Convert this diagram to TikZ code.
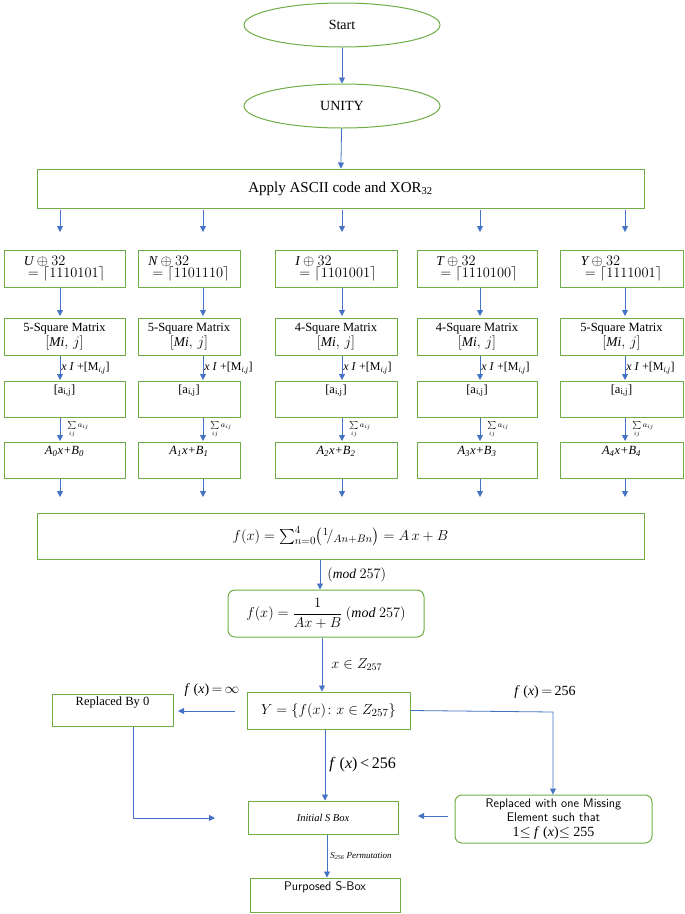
\documentclass[tikz,border=0pt]{standalone}
\usepackage{amsmath,amssymb}
\usepackage{fontspec}
\setmainfont{Liberation Serif}
\usetikzlibrary{shapes.geometric,arrows.meta}
\definecolor{gr}{RGB}{112,173,71}
\definecolor{bl}{RGB}{68,114,196}
\newcommand{\fsz}[1]{\fontsize{#1}{#1}\selectfont}
\begin{document}
\begin{tikzpicture}[x=1pt,y=-1pt,
  box/.style={draw=gr,line width=1pt,rectangle,inner sep=1pt,align=center,font=\fsz{12.5}},
  rbox/.style={box,rounded corners=7pt},
  ell/.style={draw=gr,line width=1pt,ellipse,minimum width=196pt,minimum height=44pt,font=\fsz{14}},
  arr/.style={draw=bl,line width=0.8pt,-{Triangle[length=6pt,width=6pt]}},
  lab/.style={font=\fsz{12},inner sep=1pt}]
\useasboundingbox (0,0) rectangle (685,914);
\node[ell] (start) at (342,25) {Start};
\node[ell] (unity) at (342,106) {UNITY};
\node[box,minimum width=607pt,minimum height=39pt,font=\fsz{15}] (apply) at (340.5,188.5) {Apply ASCII code and XOR\textsubscript{32}};
\draw[arr] (start) -- (unity);
\draw[arr] (unity) -- (apply);
\foreach \i/\x/\w/\ch/\bits/\n/\A in {1/64.5/121/U/1110101/5/0, 2/189/102/N/1101110/5/1, 3/336/122/I/1101001/4/2, 4/477/120/T/1110100/4/3, 5/621.5/123/Y/1111001/5/4}{
  \node[box,minimum width=\w pt,minimum height=37pt,align=left] (c\i) at (\x,268.5) {\fsz{13.5}$\mathit{\ch}\oplus 32$\\ \fsz{13.5}$\;=\lceil \bits\rceil$};
  \node[box,minimum width=\w pt,minimum height=37pt] (m\i) at (\x,336.5) {\n-Square Matrix\\ \fsz{13.5}$[\mathit{Mi},\,j]$};
  \node[box,minimum width=\w pt,minimum height=36pt] (a\i) at (\x,399) {[a\textsubscript{i,j}]\\[8pt]};
  \node[box,minimum width=\w pt,minimum height=36pt] (A\i) at (\x,460) {\textit{A\textsubscript{\A}x+B\textsubscript{\A}}\\[6pt]};
}
\foreach \i/\x in {1/60,2/203,3/342,4/480,5/625}{
  \draw[arr] (\x,210) -- (\x,232);
  \draw[arr] (\x,288) -- (\x,316);
  \draw[arr] (\x,356) -- (\x,380) node[lab,midway,right] {\textit{x I} +[M\textsubscript{\textit{i,j}}]};
  \draw[arr] (\x,418) -- (\x,441) node[lab,midway,right=6pt,font=\fsz{8}] {$\sum\limits_{ij} a_{ij}$};
  \draw[arr] (\x,479) -- (\x,497);
}
\node[box,minimum width=607pt,minimum height=46pt] (f) at (340.5,536) {\fsz{15}$f(x)=\sum_{n=0}^{4}\bigl({}^{1}\!/_{An+Bn}\bigr)=A\,x+B$};
\node[rbox,minimum width=196pt,minimum height=47pt] (g) at (326,613.5) {\fsz{14}$f(x)=\dfrac{1}{Ax+B}\ (\mathit{mod}\ 257)$};
\draw[arr] (f.south -| 320,0) -- (g.north -| 320,0) node[lab,midway,right=6pt] {\fsz{13.5}$(\mathit{mod}\ 257)$};
\node[box,minimum width=163pt,minimum height=37pt] (Y) at (328.5,710.5) {\fsz{15}$Y=\{f(x)\colon x\in Z_{257}\}$};
\draw[arr] (g.south -| 322,0) -- (Y.north -| 322,0) node[lab,midway,right=8pt] {\fsz{14}$x\in Z_{257}$};
\node[box,minimum width=121pt,minimum height=32pt] (r0) at (112.5,710) {Replaced By 0\\[6pt]};
\node[box,minimum width=150pt,minimum height=33pt] (init) at (323,817.5) {\textit{\fsz{10.5}Initial S Box}};
\node[rbox,minimum width=197pt,minimum height=48pt,font=\sffamily\fsz{12.5}] (rm) at (553.5,819) {Replaced with one Missing\\[2pt] Element such that\\[2pt] \rmfamily\fsz{14}1$\le$ \textit{f} (\textit{x})$\le$ 255};
\node[box,minimum width=150pt,minimum height=34pt,font=\sffamily\fsz{12.5}] (p) at (325,895) {Purposed S-Box\\[6pt]};
\draw[arr] (235,711) -- (178,711);
\node[lab,font=\fsz{14}] (linf) at (212,690) {\textit{f} (\textit{x})$\,{=}\,\infty$};
\draw[arr] (Y.east) -- (553,712) -- (rm.north -| 553,0);
\node[lab,font=\fsz{14}] (l256) at (545,692) {\textit{f} (\textit{x})$\,{=}\,$256};
\draw[arr] (Y.south -| 325,0) -- (init.north -| 325,0) node[lab,midway,right=3pt,font=\fsz{16}] {\textit{f} (\textit{x})\,<\,256};
\draw[arr] (r0.south -| 133,0) -- (133,818) -- (215,818);
\draw[arr] (448,816) -- (418,816);
\draw[arr] (init.south -| 327,0) -- (p.north -| 327,0) node[lab,midway,right=2pt,font=\fsz{9}] {\textit{S\textsubscript{256} Permutation}};
\end{tikzpicture}
\end{document}
